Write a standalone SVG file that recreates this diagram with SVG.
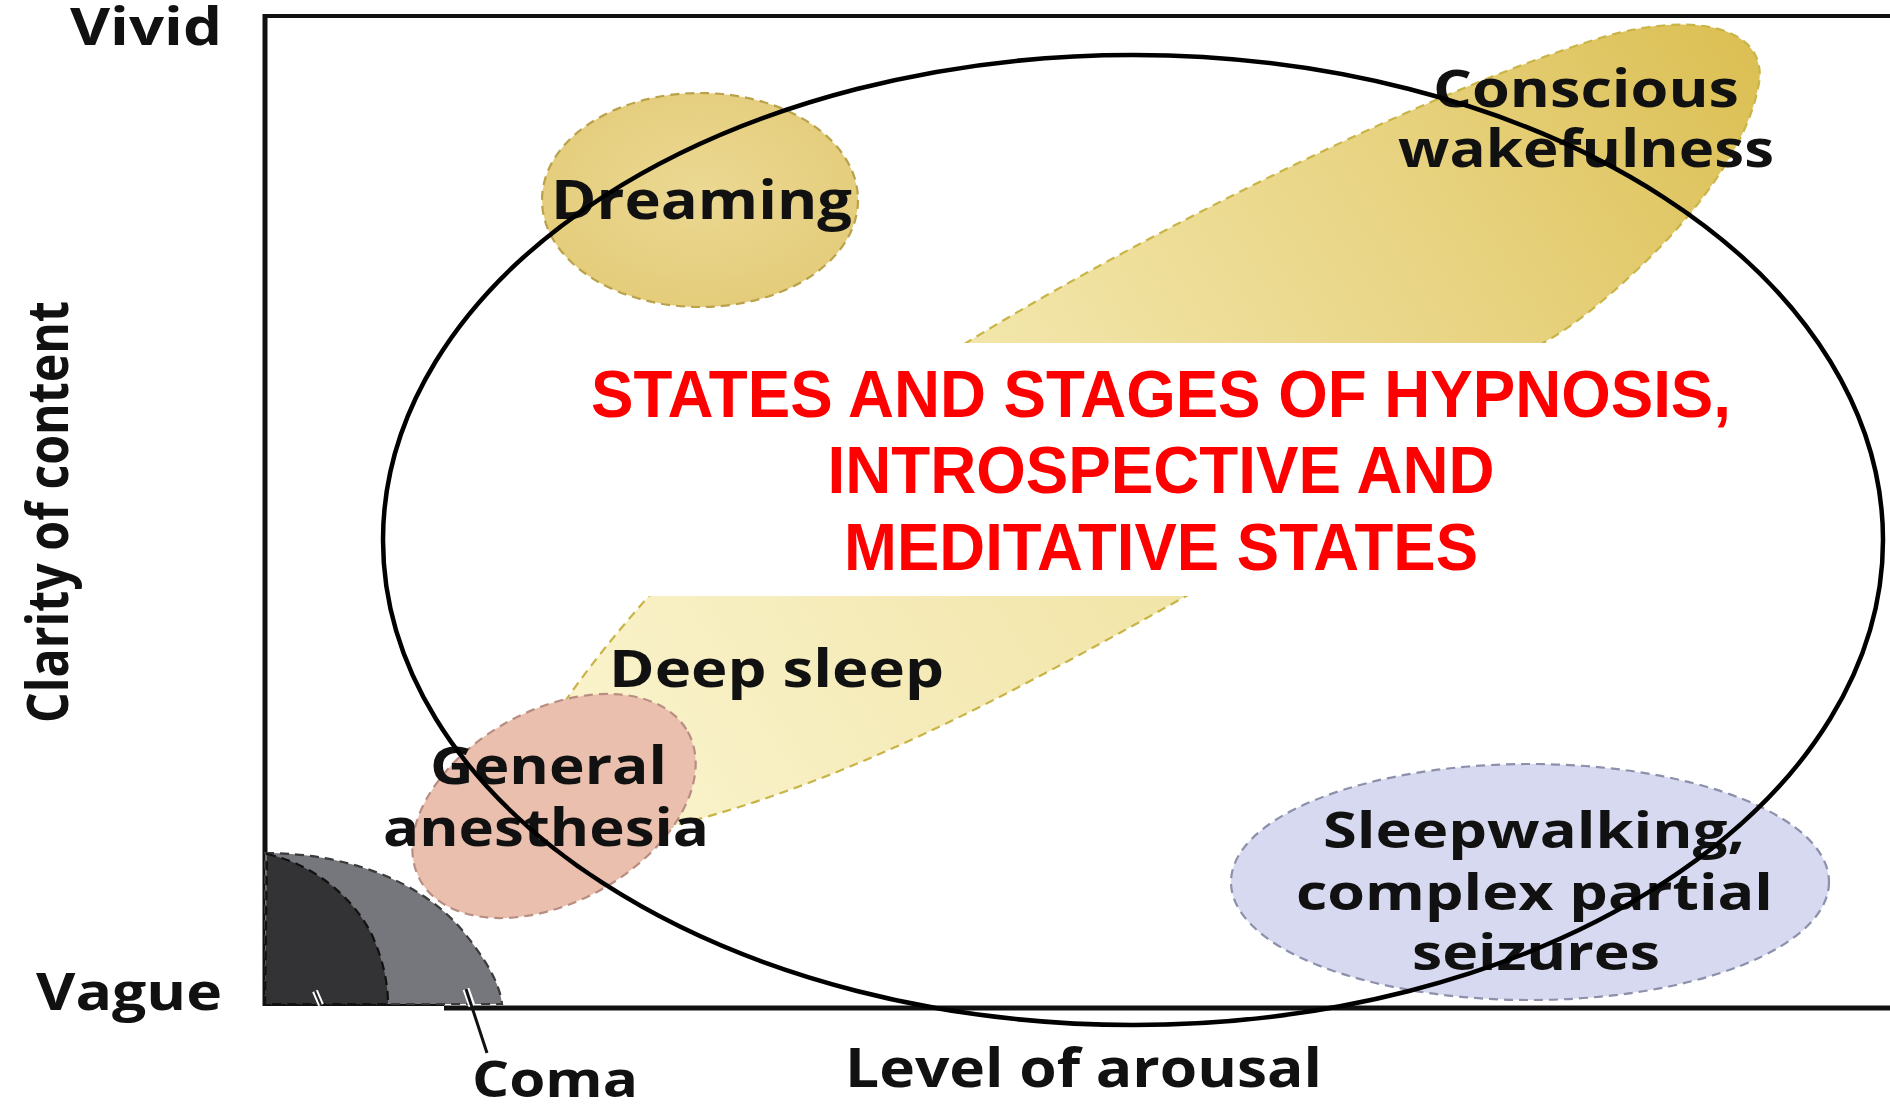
<svg xmlns="http://www.w3.org/2000/svg" width="1890" height="1104" viewBox="0 0 1890 1104">
  <style>
    .lbl { font-family: "Open Sans", "Noto Sans", "DejaVu Sans", sans-serif; font-weight: 700; fill: #111; }
    .red { font-family: "Liberation Sans", Arial, sans-serif; font-weight: 700; fill: #ff0000; font-size: 66px; text-anchor: middle; }
    .dash { stroke-width: 2.2; stroke-dasharray: 9 6; }
    .axis { stroke: #111; fill: none; }
  </style>
  <defs>
    <linearGradient id="bandGrad" gradientUnits="userSpaceOnUse" x1="600" y1="780" x2="1750" y2="60">
      <stop offset="0" stop-color="#faf3cc"/>
      <stop offset="0.45" stop-color="#f1e4a6"/>
      <stop offset="0.75" stop-color="#e7d27f"/>
      <stop offset="1" stop-color="#dcc055"/>
    </linearGradient>
    <radialGradient id="dreamGrad" cx="0.5" cy="0.45" r="0.6">
      <stop offset="0" stop-color="#ebd892"/>
      <stop offset="1" stop-color="#e3cb78"/>
    </radialGradient>
  </defs>
  <rect width="1890" height="1104" fill="#ffffff"/>

  <g id="axes">
    <line class="axis" x1="265" y1="14" x2="265" y2="1006" stroke-width="5"/>
    <line class="axis" x1="263" y1="16" x2="1890" y2="16" stroke-width="4" stroke="#222"/>
    <line class="axis" x1="263" y1="1004" x2="444" y2="1004" stroke-width="4"/>
    <line class="axis" x1="444" y1="1008" x2="1890" y2="1008" stroke-width="5"/>
  </g>

  <g id="wakefulness-band">
    <path d="M540,740 C570,690 610,640 648,597 C740,500 850,415 966,343 C1100,260 1400,100 1600,38 C1700,8 1772,30 1758,88 C1748,140 1705,205 1640,267 C1600,305 1570,328 1543,343 C1443,421 1290,535 1188,595 C1000,700 850,780 680,824 L600,850 Z" fill="url(#bandGrad)" stroke="#c9b447" class="dash"/>
  </g>

  <g id="dreaming">
    <ellipse cx="700" cy="200" rx="158" ry="107" fill="url(#dreamGrad)" stroke="#b9a24a" class="dash"/>
  </g>

  <g id="sleepwalking">
    <ellipse cx="1530" cy="882" rx="299" ry="118" fill="#d6d9ef" stroke="#8c90aa" class="dash"/>
  </g>

  <g id="coma">
    <path d="M265,853 C345,853 420,880 462,930 C488,962 500,985 502,1004 L265,1004 Z" fill="#76777c" stroke="#3a3a3a" class="dash"/>
    <path d="M267,854 C312,864 352,895 372,935 C384,962 388,985 388,1004 L265,1004 Z" fill="#333336" stroke="#111" class="dash"/>
  </g>

  <g id="general-anesthesia">
    <ellipse cx="0" cy="0" rx="153" ry="96" transform="translate(554,806) rotate(-29)" fill="#eabfad" stroke="#b88e82" class="dash"/>
  </g>

  <g id="title-box">
    <rect x="600" y="343" width="1000" height="253" fill="#ffffff"/>
  </g>

  <g id="connectors">
    <line x1="315" y1="991" x2="321" y2="1005" stroke="#ffffff" stroke-width="6"/>
    <line x1="315" y1="991" x2="321" y2="1005" stroke="#222" stroke-width="2"/>
    <line x1="466" y1="989" x2="472" y2="1006" stroke="#ffffff" stroke-width="7"/>
    <line x1="466" y1="989" x2="487" y2="1053" stroke="#111" stroke-width="3"/>
  </g>

  <g id="labels">
    <text class="lbl" x="70" y="45" font-size="52" textLength="152" lengthAdjust="spacingAndGlyphs">Vivid</text>
    <text class="lbl" x="36" y="1010" font-size="52" textLength="186" lengthAdjust="spacingAndGlyphs">Vague</text>
    <text class="lbl" transform="translate(68,723) rotate(-90)" font-size="58" textLength="422" lengthAdjust="spacingAndGlyphs">Clarity of content</text>
    <text class="lbl" x="845" y="1087" font-size="54" textLength="477" lengthAdjust="spacingAndGlyphs">Level of arousal</text>
    <text class="lbl" x="472" y="1097" font-size="50" textLength="166" lengthAdjust="spacingAndGlyphs">Coma</text>
    <text class="lbl" x="551" y="219" font-size="54" textLength="301" lengthAdjust="spacingAndGlyphs">Dreaming</text>
    <text class="lbl" x="1433" y="107" font-size="52" textLength="306" lengthAdjust="spacingAndGlyphs">Conscious</text>
    <text class="lbl" x="1398" y="167" font-size="52" textLength="376" lengthAdjust="spacingAndGlyphs">wakefulness</text>
    <text class="lbl" x="609" y="687" font-size="52" textLength="335" lengthAdjust="spacingAndGlyphs">Deep sleep</text>
    <text class="lbl" x="430" y="784" font-size="52" textLength="237" lengthAdjust="spacingAndGlyphs">General</text>
    <text class="lbl" x="383" y="846" font-size="52" textLength="326" lengthAdjust="spacingAndGlyphs">anesthesia</text>
    <text class="lbl" x="1323" y="848" font-size="50" textLength="422" lengthAdjust="spacingAndGlyphs">Sleepwalking,</text>
    <text class="lbl" x="1296" y="910" font-size="50" textLength="477" lengthAdjust="spacingAndGlyphs">complex partial</text>
    <text class="lbl" x="1412" y="970" font-size="50" textLength="248" lengthAdjust="spacingAndGlyphs">seizures</text>
  </g>

  <g id="outline">
    <ellipse cx="1133" cy="540" rx="750" ry="485" fill="none" stroke="#000" stroke-width="4.5"/>
  </g>

  <g id="title">
    <text class="red" x="1161" y="417" textLength="1140" lengthAdjust="spacingAndGlyphs">STATES AND STAGES OF HYPNOSIS,</text>
    <text class="red" x="1161" y="493" textLength="667" lengthAdjust="spacingAndGlyphs">INTROSPECTIVE AND</text>
    <text class="red" x="1161" y="570" textLength="634" lengthAdjust="spacingAndGlyphs">MEDITATIVE STATES</text>
  </g>
</svg>
